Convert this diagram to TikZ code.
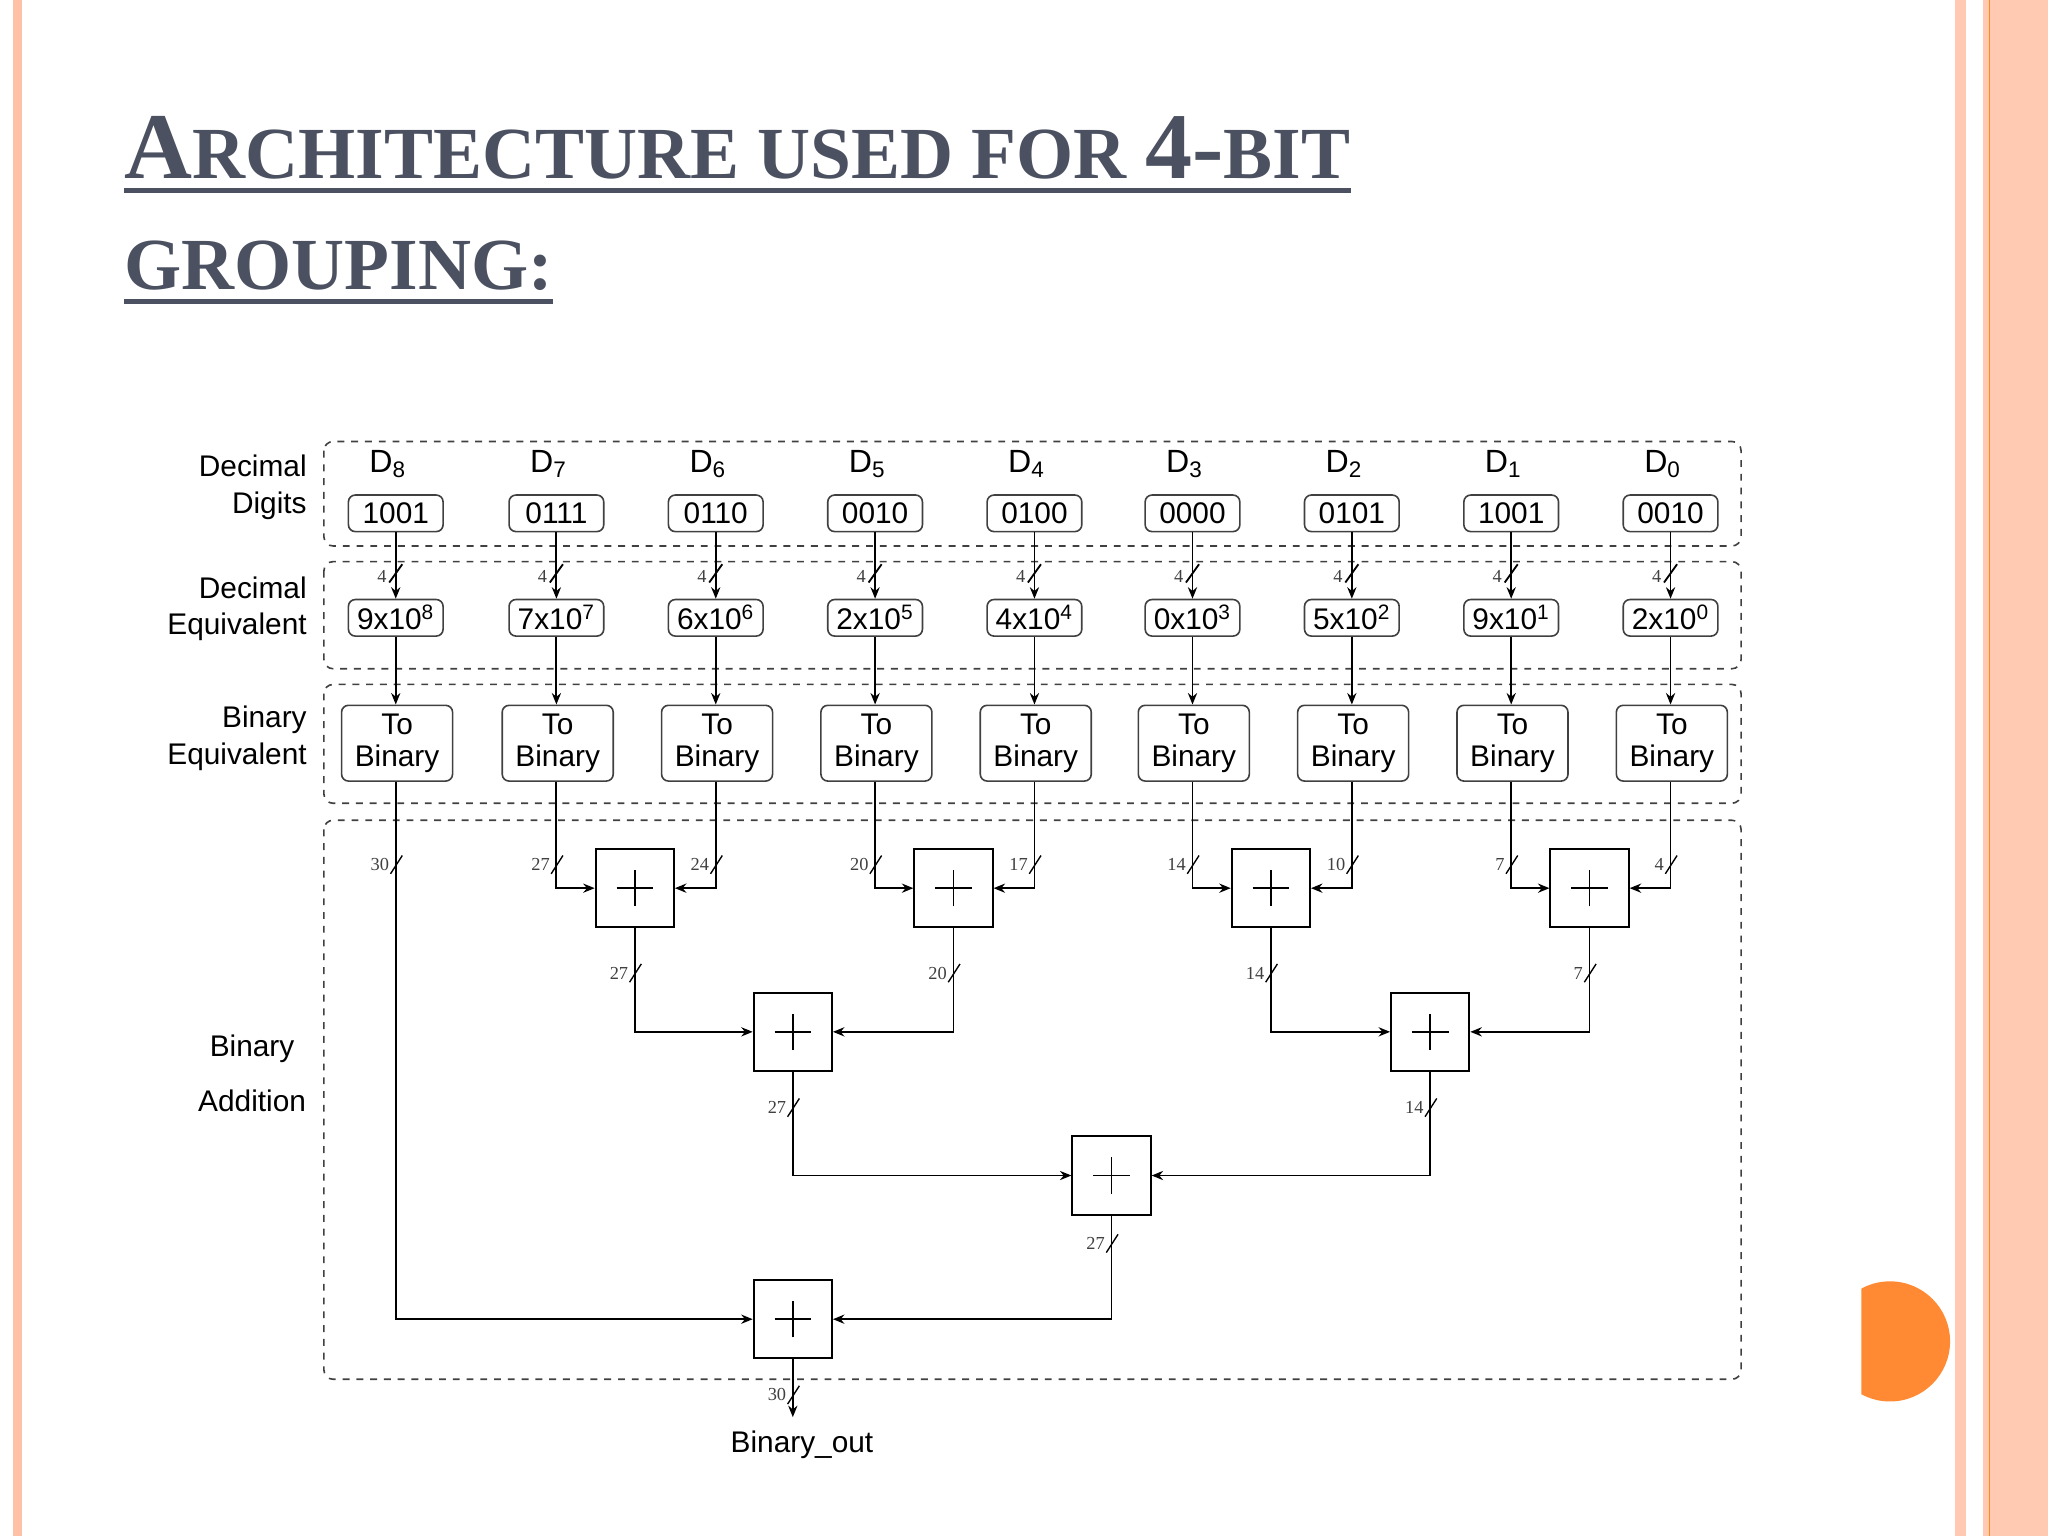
\documentclass[tikz,border=0pt]{standalone}
\usepackage{fontspec}
\setmainfont{Liberation Sans}
\newfontfamily\ttl{Liberation Serif}
\usetikzlibrary{arrows.meta,calc}
\definecolor{ttlc}{HTML}{4B5160}
\begin{document}
\begin{tikzpicture}[x=0.02cm,y=-0.02cm,
  dbox/.style={draw=black!75,dashed,line width=0.7pt,rounded corners=4pt},
  numbox/.style={draw=black!75,line width=0.7pt,rounded corners=3pt,minimum width=1.45cm,minimum height=0.56cm,inner sep=0pt,font=\fontsize{13}{14}\selectfont},
  tobox/.style={draw=black!75,line width=0.7pt,rounded corners=3pt,minimum width=1.7cm,minimum height=1.16cm,inner sep=0pt,align=center,font=\fontsize{13}{14}\selectfont},
  add/.style={draw,line width=0.8pt,minimum size=1.2cm,inner sep=0pt,
    path picture={\draw[line width=0.7pt] ([xshift=-0.28cm]path picture bounding box.center) -- ([xshift=0.28cm]path picture bounding box.center);
                  \draw[line width=0.7pt] ([yshift=-0.28cm]path picture bounding box.center) -- ([yshift=0.28cm]path picture bounding box.center);}},
  wire/.style={line width=0.8pt},
  arr/.style={wire,-{Stealth[length=5pt,width=4pt]}},
  lab/.style={font=\fontsize{13}{16}\selectfont,align=right},
  dl/.style={font=\fontsize{14}{16}\selectfont},
  bn/.style={font=\ttl\fontsize{8}{9}\selectfont,text=black!75,inner sep=1pt}]
\useasboundingbox (0,0) rectangle (1568,1176);
% slide decorations
\fill[red!40!orange!35] (10,0) rectangle (17,1176);
\fill[red!40!orange!30] (1497,0) rectangle (1505,1176);
\fill[red!40!orange!30] (1518,0) rectangle (1568,1176);
\draw[orange!90,line width=0.6pt] (1523,0) -- (1523,1176);
\begin{scope}
\clip (1425,900) rectangle (1500,1100);
\fill[orange!85!red!80!white] (1447,1027) circle (46);
\end{scope}
% title
\node[anchor=base west,inner sep=0pt,text=ttlc,font=\ttl\bfseries] (t1) at (95,137)
 {{\fontsize{41}{41}\selectfont A}{\fontsize{32}{32}\selectfont RCHITECTURE USED FOR }{\fontsize{41}{41}\selectfont 4-}{\fontsize{32}{32}\selectfont BIT}};
\node[anchor=base west,inner sep=0pt,text=ttlc,font=\ttl\bfseries] (t2) at (95,222)
 {\fontsize{32}{32}\selectfont GROUPING:};
\draw[ttlc,line width=2pt] ($(t1.base west)+(0,9)$) -- ($(t1.base east)+(0,9)$);
\draw[ttlc,line width=2pt] ($(t2.base west)+(0,9)$) -- ($(t2.base east)+(0,9)$);
% dashed regions
\draw[dbox] (248,338) rectangle (1333,418);
\draw[dbox] (248,430) rectangle (1333,512);
\draw[dbox] (248,524) rectangle (1333,615);
\draw[dbox] (248,628) rectangle (1333,1056);
% left labels
\node[lab,anchor=east] (l1) at (241,373) {Decimal\\Digits};
\node[lab,anchor=east] (l2) at (241,466) {Decimal\\Equivalent};
\node[lab,anchor=east] (l3) at (241,565) {Binary\\Equivalent};
\node[lab,align=center,font=\fontsize{13}{24}\selectfont] (l4) at (193,822) {Binary\\Addition};
% columns
\foreach \i/\x/\dg/\bits/\m in {8/303/9/1001/8,7/426/7/0111/7,6/548/6/0110/6,5/670/2/0010/5,4/792/4/0100/4,3/913/0/0000/3,2/1035/5/0101/2,1/1157/9/1001/1,0/1279/2/0010/0}{
  \node[dl] (D\i) at (\x-6,355) {D\textsubscript{\i}};
  \node[numbox] (B\i) at (\x,393) {\bits};
  \node[numbox] (E\i) at (\x,473) {\dg x10\textsuperscript{\m}};
  \node[tobox] (T\i) at (\x+1,569) {To\\Binary};
  \draw[arr] (B\i) -- (E\i);
  \draw[arr] (E\i) -- (T\i.north-|E\i);
  \draw[wire] (\x-5,446) -- (\x+5,432);
  \node[bn,anchor=east] (n\i) at (\x-5,441) {4};
}
% adders
\node[add] (A1) at (486,680) {};
\node[add] (A2) at (730,680) {};
\node[add] (A3) at (973,680) {};
\node[add] (A4) at (1217,680) {};
\node[add] (A5) at (607,790) {};
\node[add] (A6) at (1095,790) {};
\node[add] (A7) at (851,900) {};
\node[add] (A8) at (607,1010) {};
\coordinate (out) at (607,1085);
\node[font=\fontsize{13}{14}\selectfont] (bo) at (614,1106) {Binary\_out};
% wires
\draw[arr] (T7.south-|E7) |- (A1.west);
\draw[arr] (T6.south-|E6) |- (A1.east);
\draw[arr] (T5.south-|E5) |- (A2.west);
\draw[arr] (T4.south-|E4) |- (A2.east);
\draw[arr] (T3.south-|E3) |- (A3.west);
\draw[arr] (T2.south-|E2) |- (A3.east);
\draw[arr] (T1.south-|E1) |- (A4.west);
\draw[arr] (T0.south-|E0) |- (A4.east);
\draw[arr] (A1.south) |- (A5.west);
\draw[arr] (A2.south) |- (A5.east);
\draw[arr] (A3.south) |- (A6.west);
\draw[arr] (A4.south) |- (A6.east);
\draw[arr] (A5.south) |- (A7.west);
\draw[arr] (A6.south) |- (A7.east);
\draw[arr] (A7.south) |- (A8.east);
\draw[arr] (T8.south-|E8) |- (A8.west);
\draw[arr] (A8.south) -- (out);
% bus width marks
\foreach \x/\y/\n/\k in {303/662/30/a,426/662/27/b,548/662/24/c,670/662/20/d,792/662/17/e,913/662/14/f,1035/662/10/g,1157/662/7/h,1279/662/4/i,486/745/27/j,730/745/20/k,973/745/14/l,1217/745/7/m,607/848/27/o,1095/848/14/p,851/952/27/q,607/1068/30/r}{
  \draw[wire,line width=0.6pt] (\x-4,\y+7) -- (\x+5,\y-7);
  \node[bn,anchor=east] (w\k) at (\x-3,\y) {\n};
}
\end{tikzpicture}
\end{document}
